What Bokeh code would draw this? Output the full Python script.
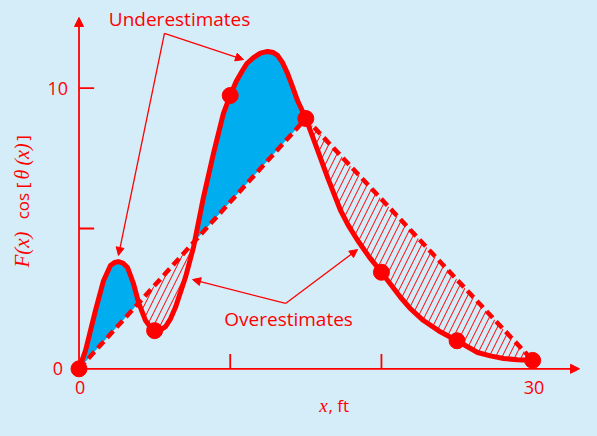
import numpy as np
from bokeh.plotting import figure
from bokeh.models import Range1d, Arrow, NormalHead, ColumnDataSource
from bokeh.core.properties import value
from bokeh.embed import file_html
from bokeh.resources import INLINE

# ---- data ----
curve_x = [0, 0.43, 1.09, 1.62, 2.08, 2.35, 2.61, 2.90, 3.21, 3.60, 3.94, 4.40,
           4.70, 5.00, 5.35, 5.72, 6.05, 6.38, 7.04, 7.57, 7.70, 8.23, 8.89, 9.55,
           10.00, 10.40, 10.81, 11.10, 11.54, 12.00, 12.47, 12.85, 13.13, 13.45,
           13.79, 14.10, 14.45, 15.00, 15.77, 16.43, 16.85, 17.29, 17.80, 18.42,
           19.20, 20.00, 21.26, 21.90, 22.78, 23.80, 25.00, 26.36, 27.20, 28.08,
           29.00, 30.00]
curve_y = [0, 0.65, 2.08, 3.14, 3.68, 3.79, 3.82, 3.77, 3.61, 3.04, 2.36, 1.72,
           1.50, 1.36, 1.37, 1.50, 1.78, 2.19, 3.26, 4.33, 4.68, 6.11, 7.67, 9.10,
           9.74, 10.25, 10.63, 10.88, 11.09, 11.25, 11.31, 11.27, 11.17, 10.92,
           10.53, 10.08, 9.56, 8.92, 7.80, 6.83, 6.25, 5.65, 5.12, 4.58,
           3.98, 3.44, 2.55, 2.15, 1.72, 1.35, 1.00, 0.58, 0.46, 0.37,
           0.32, 0.30]
point_x = [0, 5, 10, 15, 20, 25, 30]
point_y = [0, 1.36, 9.74, 8.92, 3.44, 1.00, 0.30]
chord_x = point_x[::3]
chord_y = point_y[::3]
x_ticks = [10, 20]
y_ticks = [5, 10]
x_tick_labels = ["0", "30"]
y_tick_labels = ["0", "10"]

RED = "#FF0000"
BLUE = "#00AEEF"
BG = "#D5EDF9"

p = figure(width=581, height=420, output_backend="svg", toolbar_location=None,
           x_axis_type=None, y_axis_type=None,
           x_range=Range1d(-5.192, 33.23), y_range=Range1d(-1.842, 13.125),
           min_border=0, background_fill_color=BG, border_fill_color=BG)
p.outline_line_color = None

# fills between curve and chord
xd = np.linspace(0, 30, 1201)
cd = np.interp(xd, curve_x, curve_y)
hd = np.interp(xd, chord_x, chord_y)
src = ColumnDataSource(dict(x=xd, chord=hd, up=np.maximum(cd, hd), lo=np.minimum(cd, hd)))
p.varea(x="x", y1="chord", y2="up", source=src, fill_color=BLUE, fill_alpha=1)
p.varea(x="x", y1="lo", y2="chord", source=src, fill_alpha=0,
        hatch_pattern="/", hatch_color=RED, hatch_weight=1, hatch_scale=13)

# chord (dashed) and curve
p.line(chord_x, chord_y, line_color=RED, line_width=4.5, line_dash="9 5")
p.line(curve_x, curve_y, line_color=RED, line_width=5, line_join="round")
p.scatter(point_x, point_y, size=16, fill_color=RED, line_color=RED)

# axes with arrows
def head(sz):
    return NormalHead(size=sz, fill_color=RED, line_color=RED, line_width=1)

p.add_layout(Arrow(end=head(9), x_start=0, y_start=0, x_end=0, y_end=12.52,
                   line_color=RED, line_width=1.8))
p.add_layout(Arrow(end=head(9), x_start=0, y_start=0, x_end=33.1, y_end=0,
                   line_color=RED, line_width=1.8))
p.segment(x0=[0] * len(y_ticks), y0=y_ticks, x1=[1.0] * len(y_ticks), y1=y_ticks,
          line_color=RED, line_width=1.8)
p.segment(x0=x_ticks, y0=[0] * len(x_ticks), x1=x_ticks, y1=[0.53] * len(x_ticks),
          line_color=RED, line_width=1.8)

sans = value("Open Sans")
serif = value("Liberation Serif")

p.text(x=[-1.40, -1.40], y=[0, 10], text=y_tick_labels, text_color=RED,
       text_font=sans, text_font_size="18px", text_align="center", text_baseline="middle")
p.text(x=[0.07, 30.09], y=[-0.68, -0.67], text=x_tick_labels, text_color=RED,
       text_font=sans, text_font_size="18px", text_align="center", text_baseline="middle")

# axis titles
p.text(x=[16.44], y=[-1.31], text=["x"], text_color=RED, text_font=serif,
       text_font_style="italic", text_font_size="19px", text_align="right", text_baseline="middle")
p.text(x=[16.50], y=[-1.31], text=[", ft"], text_color=RED, text_font=sans,
       text_font_size="17px", text_align="left", text_baseline="middle")

ylx = -3.74
rot = np.pi / 2
p.text(x=[ylx], y=[4.25], text=["F(x)"], angle=rot, text_color=RED, text_font=serif,
       text_font_style="italic", text_font_size="21px", text_align="center", text_baseline="middle")
p.text(x=[ylx], y=[5.80], text=["cos"], angle=rot, text_color=RED, text_font=sans,
       text_font_size="17px", text_align="center", text_baseline="middle")
p.text(x=[ylx], y=[6.53], text=["["], angle=rot, text_color=RED, text_font=sans,
       text_font_size="17px", text_align="center", text_baseline="middle")
p.text(x=[ylx], y=[7.39], text=["θ\u2009(x)"], angle=rot, text_color=RED, text_font=serif,
       text_font_style="italic", text_font_size="20px", text_align="center", text_baseline="middle")
p.text(x=[ylx], y=[8.23], text=["]"], angle=rot, text_color=RED, text_font=sans,
       text_font_size="17px", text_align="center", text_baseline="middle")

# annotations
p.text(x=[6.65], y=[12.45], text=["Underestimates"], text_color=RED, text_font=sans,
       text_font_size="19px", text_align="center", text_baseline="middle")
p.text(x=[13.86], y=[1.79], text=["Overestimates"], text_color=RED, text_font=sans,
       text_font_size="19px", text_align="center", text_baseline="middle")

under_vertex = (5.65, 11.95)
under_tips = [(10.88, 11.02), (2.61, 4.04)]
over_vertex = (13.66, 2.33)
over_tips = [(7.51, 3.18), (18.42, 4.25)]
for vx, tips in ((under_vertex, under_tips), (over_vertex, over_tips)):
    for tx, ty in tips:
        p.add_layout(Arrow(end=head(8), x_start=vx[0], y_start=vx[1], x_end=tx, y_end=ty,
                           line_color=RED, line_width=1.3))

html = file_html(p, INLINE)
style = "<style>html, body { background-color: %s; }</style>" % BG
html = html.replace("</head>", style + "</head>", 1)
open("out.html", "w").write(html)
